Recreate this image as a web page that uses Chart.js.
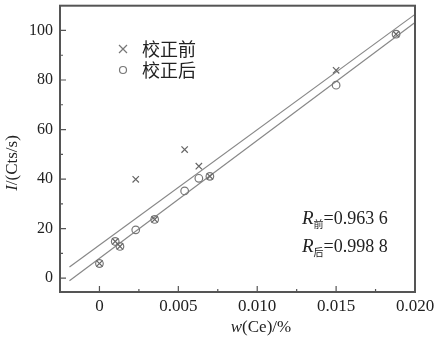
<!DOCTYPE html>
<html>
<head>
<meta charset="utf-8">
<script src="https://cdn.jsdelivr.net/npm/chart.js"></script>
<style>
  html, body { margin: 0; padding: 0; background: #fff; }
  #wrap { width: 437px; height: 346px; }
</style>
</head>
<body>
<div id="wrap"><canvas id="myChart" width="437" height="346"></canvas></div>
<script>
// values
const concentration = [0, 0.001, 0.0013, 0.0023, 0.0035, 0.0054, 0.0063, 0.0070, 0.0150, 0.0188];
const intensityBefore = [5.9, 14.8, 12.8, 39.9, 23.7, 51.9, 45.2, 41.1, 83.9, 98.5];
const intensityAfter = [5.9, 14.8, 12.8, 19.5, 23.7, 35.2, 40.3, 41.1, 77.9, 98.5];
const fitBeforeX = [-0.0019, 0.020];
const fitBeforeY = [4.5, 106.5];
const fitAfterX = [-0.0019, 0.020];
const fitAfterY = [-1.1, 103.2];
const xTickValues = [0, 0.005, 0.010, 0.015, 0.020];
const xTickLabels = ["0", "0.005", "0.010", "0.015", "0.020"];
const xMinorTicks = [0.0025, 0.0075, 0.0125, 0.0175];
const yTickValues = [0, 20, 40, 60, 80, 100];
const yMinorTicks = [10, 30, 50, 70, 90];
const seriesNames = ["校正前", "校正后"];
const rLabels = [["前", "=0.963 6"], ["后", "=0.998 8"]];

const serif = "'Liberation Serif', 'DejaVu Serif', serif";
const cjk = "'Noto Sans CJK SC', sans-serif";
const toPoints = (xs, ys) => xs.map((x, i) => ({ x, y: ys[i] }));

// draw a run of text pieces with different fonts, one after another
function drawRun(ctx, parts, x, y, align) {
  const widths = parts.map(p => { ctx.font = p.font; return ctx.measureText(p.text).width; });
  const total = widths.reduce((a, b) => a + b, 0);
  let cx = align === "center" ? x - total / 2 : x;
  parts.forEach((p, i) => {
    ctx.font = p.font;
    ctx.fillText(p.text, cx, y + (p.dy || 0));
    cx += widths[i];
  });
}

const framePlugin = {
  id: "frame",
  afterDatasetsDraw(chart) {
    const { ctx, chartArea: a, scales } = chart;
    const xs = scales.x, ys = scales.y;
    ctx.save();
    ctx.strokeStyle = "#555";
    ctx.lineWidth = 1.2;
    ctx.beginPath();
    xTickValues.forEach(v => { const p = xs.getPixelForValue(v); ctx.moveTo(p, a.bottom); ctx.lineTo(p, a.bottom - 6); });
    xMinorTicks.forEach(v => { const p = xs.getPixelForValue(v); ctx.moveTo(p, a.bottom); ctx.lineTo(p, a.bottom - 3); });
    yTickValues.forEach(v => { const p = ys.getPixelForValue(v); ctx.moveTo(a.left, p); ctx.lineTo(a.left + 6, p); });
    yMinorTicks.forEach(v => { const p = ys.getPixelForValue(v); ctx.moveTo(a.left, p); ctx.lineTo(a.left + 3, p); });
    ctx.stroke();
    ctx.lineWidth = 2;
    ctx.strokeRect(a.left, a.top, a.right - a.left, a.bottom - a.top);

    // legend
    ctx.fillStyle = "#222";
    ctx.textBaseline = "middle";
    ctx.textAlign = "left";
    ctx.font = "18px " + cjk;
    ctx.strokeStyle = "#777";
    ctx.lineWidth = 1.2;
    ctx.beginPath();
    ctx.moveTo(119, 45); ctx.lineTo(127, 53);
    ctx.moveTo(127, 45); ctx.lineTo(119, 53);
    ctx.stroke();
    ctx.beginPath();
    ctx.arc(123, 70, 3.5, 0, Math.PI * 2);
    ctx.stroke();
    ctx.fillText(seriesNames[0], 142, 49);
    ctx.fillText(seriesNames[1], 142, 70);

    // correlation notes
    ctx.textBaseline = "alphabetic";
    rLabels.forEach((r, i) => {
      const base = 224 + i * 28;
      drawRun(ctx, [
        { text: "R", font: "italic 19px " + serif },
        { text: r[0], font: "10px " + cjk, dy: 4 },
        { text: r[1], font: "18px " + serif }
      ], 302, base, "left");
    });

    // axis titles
    drawRun(ctx, [
      { text: "w", font: "italic 17px " + serif },
      { text: "(Ce)/%", font: "17px " + serif }
    ], 261, 332, "center");
    ctx.translate(17, 163);
    ctx.rotate(-Math.PI / 2);
    drawRun(ctx, [
      { text: "I", font: "italic 17px " + serif },
      { text: "/(Cts/s)", font: "17px " + serif }
    ], 0, 0, "center");
    ctx.restore();
  }
};

const chart = new Chart(document.getElementById("myChart"), {
  type: "scatter",
  data: {
    datasets: [
      {
        label: seriesNames[0],
        data: toPoints(concentration, intensityBefore),
        pointStyle: "crossRot",
        pointRadius: 4.5,
        borderColor: "#666",
        borderWidth: 1.2
      },
      {
        label: seriesNames[1],
        data: toPoints(concentration, intensityAfter),
        pointStyle: "circle",
        pointRadius: 3.8,
        borderColor: "#777",
        backgroundColor: "rgba(0,0,0,0)",
        borderWidth: 1.2
      },
      {
        data: toPoints(fitBeforeX, fitBeforeY),
        showLine: true,
        pointRadius: 0,
        borderColor: "#888",
        borderWidth: 1.2
      },
      {
        data: toPoints(fitAfterX, fitAfterY),
        showLine: true,
        pointRadius: 0,
        borderColor: "#888",
        borderWidth: 1.2
      }
    ]
  },
  options: {
    responsive: false,
    animation: false,
    layout: { padding: { top: 4, right: 22, left: 0, bottom: 0 } },
    plugins: { legend: { display: false }, tooltip: { enabled: false } },
    scales: {
      x: {
        type: "linear",
        min: -0.0025,
        max: 0.020,
        grid: { display: false, drawTicks: false },
        border: { display: false },
        afterBuildTicks: s => { s.ticks = xTickValues.map(v => ({ value: v })); },
        afterFit: s => { s.height = 54; s.paddingLeft = 0; s.paddingRight = 0; },
        ticks: {
          padding: 4,
          color: "#222",
          font: { family: serif, size: 17 },
          callback: (v) => xTickLabels[xTickValues.indexOf(v)]
        }
      },
      y: {
        min: -5.6,
        max: 110,
        grid: { display: false, drawTicks: false },
        border: { display: false },
        afterBuildTicks: s => { s.ticks = yTickValues.map(v => ({ value: v })); },
        afterFit: s => { s.width = 60; s.paddingTop = 0; s.paddingBottom = 0; },
        ticks: {
          padding: 7,
          color: "#222",
          font: { family: serif, size: 16 }
        }
      }
    }
  },
  plugins: [framePlugin]
});
</script>
</body>
</html>
